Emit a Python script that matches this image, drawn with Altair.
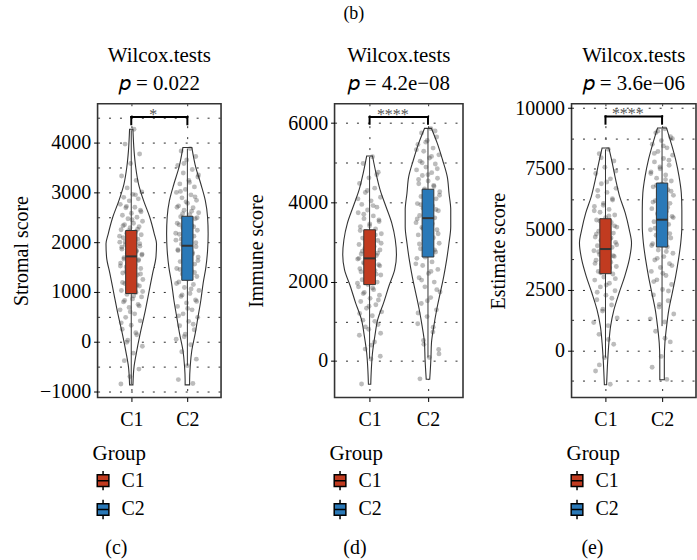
import altair as alt
import pandas as pd

FONT = "Liberation Serif"
GROUPS = ["C1", "C2"]
COLORS = ["#C13B20", "#2A79B8"]
CAPTIONS = ["(c)", "(d)", "(e)"]
Y_TITLES = ["Stromal score", "Immune score", "Estimate score"]
P_VALUES = ["0.022", "4.2e\u221208", "3.6e\u221206"]
SIG_LABELS = ["*", "****", "****"]

# ---------------- jittered sample points ----------------
stromal_c1 = [4268, 3970, 3770, 3580, 3330, 3240, 3090, 3010, 2960, 2900, 2870, 2830, 2760, 2700,
              2690, 2640, 2580, 2540, 2500, 2470, 2420, 2380, 2350, 2310, 2290, 2250, 2210, 2180,
              2150, 2110, 2090, 2060, 2030, 2000, 1980, 1950, 1920, 1890, 1860, 1830, 1790, 1760,
              1720, 1690, 1650, 1610, 1580, 1540, 1500, 1470, 1430, 1380, 1340, 1300, 1250, 1210,
              1170, 1120, 1080, 1030, 990, 950, 900, 860, 800, 750, 690, 640, 560, 490, 420, 330,
              250, 140, 30, -90, -230, -380, -550, -700, -850,
              2950, 2720, 2610, 2450, 2330, 2260, 2230, 2120, 2070, 2010, 1970, 1940, 1900, 1810,
              1770, 1740, 1700, 1660, 1630, 1560, 1520, 1480, 1410, 1360, 1280, 1190, 1140, 1060,
              1010, 920, 830, 720, 600, 380, 180, -10]
stromal_c2 = [3880, 3830, 3720, 3650, 3540, 3460, 3390, 3310, 3240, 3170, 3110, 3060, 3000, 2950,
              2890, 2840, 2780, 2730, 2690, 2640, 2590, 2550, 2510, 2470, 2420, 2380, 2330, 2290,
              2240, 2200, 2160, 2120, 2080, 2040, 2000, 1960, 1910, 1870, 1830, 1790, 1740, 1700,
              1650, 1610, 1560, 1510, 1470, 1420, 1360, 1310, 1260, 1200, 1150, 1090, 1030, 970,
              910, 840, 780, 710, 640, 560, 490, 410, 320, 240, 150, 50, -60, -200, -350, -480,
              -760, -840,
              3580, 3350, 3200, 3020, 2910, 2810, 2700, 2620, 2570, 2490, 2440, 2350, 2310, 2270,
              2180, 2140, 2060, 1990, 1930, 1850, 1760, 1680, 1630, 1530, 1450, 1390, 1280, 1170,
              1060, 940, 810, 670, 520, 350, 100]
immune_c1 = [5150, 4980, 4760, 4620, 4480, 4360, 4250, 4130, 4040, 3950, 3880, 3810, 3740, 3660,
             3590, 3520, 3460, 3390, 3330, 3270, 3210, 3150, 3100, 3040, 2990, 2940, 2890, 2840,
             2800, 2750, 2700, 2660, 2610, 2570, 2520, 2480, 2430, 2380, 2330, 2280, 2230, 2170,
             2110, 2050, 1990, 1930, 1870, 1800, 1730, 1660, 1580, 1500, 1420, 1330, 1240, 1140,
             1030, 920, 800, 650, 480, 300, 120, 50, -580,
             4700, 4300, 4090, 3920, 3700, 3560, 3410, 3290, 3180, 3070, 2970, 2870, 2770, 2720,
             2640, 2590, 2540, 2460, 2400, 2350, 2250, 2190, 2080, 1960, 1840, 1700, 1540, 1380,
             1200, 1000, 860, 700, 400]
immune_c2 = [5860, 5750, 5650, 5560, 5460, 5370, 5290, 5200, 5120, 5040, 4970, 4890, 4820, 4750,
             4680, 4610, 4540, 4470, 4400, 4340, 4270, 4210, 4150, 4090, 4030, 3970, 3910, 3850,
             3790, 3730, 3670, 3610, 3550, 3490, 3430, 3370, 3310, 3240, 3180, 3110, 3040, 2970,
             2900, 2830, 2750, 2670, 2590, 2500, 2410, 2310, 2210, 2100, 1990, 1870, 1740, 1600,
             1450, 1290, 1120, 940, 730, 520, 290, 90, -450,
             5800, 5520, 5330, 5160, 5000, 4850, 4700, 4580, 4430, 4300, 4180, 4060, 3940, 3820,
             3700, 3580, 3460, 3340, 3210, 3080, 2950, 2800, 2620, 2450, 2260, 2040, 1800, 1520,
             1210, 850, 420, 180]
estimate_c1 = [8300, 8120, 7820, 7560, 7300, 7080, 6880, 6690, 6520, 6360, 6210, 6070, 5940, 5820,
               5700, 5590, 5480, 5380, 5280, 5180, 5090, 5000, 4920, 4840, 4760, 4680, 4610, 4540,
               4460, 4390, 4320, 4250, 4180, 4110, 4030, 3960, 3880, 3800, 3720, 3640, 3550, 3460,
               3360, 3260, 3150, 3030, 2900, 2770, 2620, 2460, 2280, 2090, 1870, 1620, 1340, 1020,
               660, 250, -300, -850, -1400,
               7950, 7400, 6950, 6600, 6260, 5990, 5760, 5550, 5340, 5140, 4960, 4800, 4640, 4500,
               4360, 4210, 4070, 3910, 3760, 3590, 3410, 3200, 2960, 2700, 2400, 2150, 1700, 1150,
               450, -600]
estimate_c2 = [9150, 8980, 8820, 8660, 8510, 8360, 8210, 8060, 7920, 7780, 7640, 7500, 7370, 7240,
               7110, 6990, 6870, 6750, 6630, 6510, 6400, 6290, 6180, 6070, 5960, 5850, 5740, 5640,
               5530, 5420, 5310, 5200, 5090, 4980, 4870, 4750, 4640, 4520, 4400, 4270, 4140, 4010,
               3870, 3730, 3580, 3420, 3260, 3090, 2910, 2720, 2510, 2290, 2050, 1790, 1500, 1170,
               790, 350, -250, -700, -1200,
               9050, 8740, 8440, 8130, 7850, 7570, 7300, 7050, 6810, 6570, 6350, 6120, 5900, 5690,
               5480, 5260, 5040, 4820, 4580, 4330, 4080, 3800, 3500, 3180, 2840, 2450, 1900, 1300,
               500]

# ---------------- violin outlines: score level and half-width (x units) ----------------
stromal_c1_lev = [4268, 3834, 3500, 3168, 2834, 2500, 2168, 1968, 1700, 1368, 968, 568, 168, -232, -500, -866]
stromal_c1_hw = [0.03, 0.05, 0.08, 0.13, 0.22, 0.33, 0.41, 0.45, 0.44, 0.38, 0.31, 0.24, 0.16, 0.09, 0.05, 0.03]
stromal_c2_lev = [3900, 3500, 3168, 2834, 2500, 2168, 1834, 1500, 1168, 834, 500, 168, -166, -500, -766, -866]
stromal_c2_hw = [0.08, 0.15, 0.24, 0.32, 0.36, 0.37, 0.36, 0.33, 0.28, 0.24, 0.19, 0.14, 0.08, 0.05, 0.04, 0.04]
immune_c1_lev = [5170, 4735, 4316, 3897, 3478, 3059, 2682, 2305, 1886, 1467, 1048, 629, 210, -210, -587]
immune_c1_hw = [0.05, 0.11, 0.18, 0.28, 0.38, 0.44, 0.46, 0.43, 0.33, 0.24, 0.14, 0.09, 0.05, 0.03, 0.02]
immune_c2_lev = [5866, 5489, 5070, 4651, 4232, 3813, 3394, 2975, 2556, 2137, 1718, 1299, 880, 461, 42, -461]
immune_c2_hw = [0.06, 0.16, 0.25, 0.33, 0.36, 0.39, 0.39, 0.36, 0.32, 0.27, 0.21, 0.15, 0.10, 0.06, 0.05, 0.03]
estimate_c1_lev = [8352, 7733, 7045, 6357, 5669, 4981, 4431, 3743, 3055, 2367, 1679, 991, 303, -385, -1417]
estimate_c1_hw = [0.06, 0.12, 0.18, 0.25, 0.35, 0.42, 0.46, 0.42, 0.34, 0.24, 0.15, 0.09, 0.06, 0.04, 0.02]
estimate_c2_lev = [9178, 8559, 7871, 7183, 6495, 5807, 5119, 4431, 3743, 3055, 2367, 1679, 991, 303, -385, -1211]
estimate_c2_hw = [0.08, 0.16, 0.24, 0.30, 0.34, 0.35, 0.35, 0.33, 0.29, 0.24, 0.18, 0.12, 0.08, 0.05, 0.04, 0.04]

# ---------------- box statistics: [lower whisker, Q1, median, Q3, upper whisker] ----------------
stromal_box = {"C1": [-850, 968, 1714, 2234, 4250], "C2": [-480, 1234, 1928, 2520, 3880]}
immune_box = {"C1": [60, 1927, 2589, 3310, 5150], "C2": [90, 2623, 3603, 4332, 5860]}
estimate_box = {"C1": [-300, 3165, 4183, 5435, 8300], "C2": [1000, 4266, 5394, 6908, 9150]}

# ---------------- significance brackets: [line level, tip level] ----------------
brackets = [[4514, 4368], [6157, 5983], [9658, 9358]]

# ---------------- axes ----------------
y_domains = [[-1120, 4780], [-920, 6488], [-1946, 10181]]
y_ticks = [[-1000, 0, 1000, 2000, 3000, 4000], [0, 2000, 4000, 6000], [0, 2500, 5000, 7500, 10000]]
y_grid = [[-1000, -500, 0, 500, 1000, 1500, 2000, 2500, 3000, 3500, 4000, 4500],
          [0, 1000, 2000, 3000, 4000, 5000, 6000],
          [-1250, 0, 1250, 2500, 3750, 5000, 6250, 7500, 8750, 10000]]

PANEL_DATA = [
    (stromal_c1, stromal_c2, stromal_c1_lev, stromal_c1_hw, stromal_c2_lev, stromal_c2_hw, stromal_box),
    (immune_c1, immune_c2, immune_c1_lev, immune_c1_hw, immune_c2_lev, immune_c2_hw, immune_box),
    (estimate_c1, estimate_c2, estimate_c1_lev, estimate_c1_hw, estimate_c2_lev, estimate_c2_hw, estimate_box),
]
WIDTHS = [124, 129, 125]
TITLE_PAD = [8, 21, 6]
PANEL_TITLE_OFFSET = [10, 10, 4]
HEIGHT = 295
POS_EXPR = "datum.group === 'C1' ? 1 : 2"
LEGEND_SYMBOL = "M-0.6,-0.6H0.6V0.6H-0.6Z M-0.6,0H0.6 M0,-0.6V-1 M0,0.6V1"


def make_panel(i):
    p1, p2, l1, h1, l2, h2, box = PANEL_DATA[i]
    pts = pd.DataFrame({"group": ["C1"] * len(p1) + ["C2"] * len(p2), "score": p1 + p2})
    vio = pd.DataFrame({"group": ["C1"] * len(l1) + ["C2"] * len(l2), "score": l1 + l2, "hw": h1 + h2})
    bx = pd.DataFrame({
        "group": GROUPS,
        "lo": [box[g][0] for g in GROUPS],
        "q1": [box[g][1] for g in GROUPS],
        "med": [box[g][2] for g in GROUPS],
        "q3": [box[g][3] for g in GROUPS],
        "hi": [box[g][4] for g in GROUPS],
    })
    brk = pd.DataFrame({"top": [brackets[i][0]], "tip": [brackets[i][1]], "label": [SIG_LABELS[i]]})

    xs = alt.Scale(domain=[0.4, 2.6], nice=False, zero=False)
    ys = alt.Scale(domain=y_domains[i], nice=False, zero=False)
    ticks_js = "[" + ",".join(str(v) for v in y_ticks[i]) + "]"
    is_major = f"indexof({ticks_js}, datum.value) >= 0"

    xa = alt.Axis(values=[1, 2], labelExpr="datum.value == 1 ? 'C1' : 'C2'", title=None,
                  grid=True, labelPadding=8)
    ya = alt.Axis(values=y_grid[i], format="d", labelExpr=f"{is_major} ? datum.label : ''",
                  tickOpacity={"condition": {"test": is_major, "value": 1}, "value": 0},
                  grid=True, title=Y_TITLES[i], titlePadding=TITLE_PAD[i], labelPadding=3)

    def X(f):
        return alt.X(f, scale=xs, axis=xa)

    def Y(f):
        return alt.Y(f, scale=ys, axis=ya)

    violin = alt.Chart(vio).transform_calculate(pos=POS_EXPR).transform_calculate(
        xl="datum.pos - datum.hw", xr="datum.pos + datum.hw"
    ).mark_area(orient="horizontal", interpolate="monotone", fill="white",
                stroke="#333333", strokeWidth=1.1).encode(
        y=Y("score:Q"), x=X("xl:Q"), x2="xr:Q", detail="group:N",
    )

    whisker = alt.Chart(bx).transform_calculate(pos=POS_EXPR).mark_rule(
        color="#333333", strokeWidth=1).encode(x=X("pos:Q"), y=Y("lo:Q"), y2="hi:Q")

    points = alt.Chart(pts).transform_calculate(pos=POS_EXPR).transform_window(
        idx="row_number()", groupby=["group"]
    ).transform_calculate(
        jx="datum.pos + ((datum.idx * 0.618034) % 1 - 0.5) * 0.42"
    ).mark_circle(size=24, color="#333333", opacity=0.33).encode(x=X("jx:Q"), y=Y("score:Q"))

    boxes = alt.Chart(bx).transform_calculate(pos=POS_EXPR).transform_calculate(
        bl="datum.pos - 0.1", br="datum.pos + 0.1"
    ).mark_bar(stroke="#333333", strokeWidth=1).encode(
        x=X("bl:Q"), x2="br:Q", y=Y("q1:Q"), y2="q3:Q",
        color=alt.Color("group:N", scale=alt.Scale(domain=GROUPS, range=COLORS),
                        legend=alt.Legend(title="Group", orient="none", legendX=-5, legendY=341,
                                          direction="vertical", symbolType=LEGEND_SYMBOL,
                                          symbolSize=380, symbolStrokeColor="black",
                                          symbolStrokeWidth=1.5, labelOffset=8, rowPadding=2,
                                          titlePadding=6, padding=0)),
    )

    medians = alt.Chart(bx).transform_calculate(pos=POS_EXPR).transform_calculate(
        bl="datum.pos - 0.1", br="datum.pos + 0.1"
    ).mark_rule(color="#333333", strokeWidth=2).encode(x=X("bl:Q"), x2="br:Q", y=Y("med:Q"))

    base_b = alt.Chart(brk).transform_calculate(x1="1", x2="2", xm="1.5")
    br_h = base_b.mark_rule(color="black", strokeWidth=2, strokeCap="square").encode(
        x=X("x1:Q"), x2="x2:Q", y=Y("top:Q"))
    br_l = base_b.mark_rule(color="black", strokeWidth=2, strokeCap="square").encode(
        x=X("x1:Q"), y=Y("tip:Q"), y2="top:Q")
    br_r = base_b.mark_rule(color="black", strokeWidth=2, strokeCap="square").encode(
        x=X("x2:Q"), y=Y("tip:Q"), y2="top:Q")
    br_t = base_b.mark_text(font=FONT, fontSize=16, color="#555555", baseline="alphabetic",
                            dy=3, dx=-6).encode(x=X("xm:Q"), y=Y("top:Q"), text="label:N")

    layer = alt.layer(violin, whisker, points, boxes, medians, br_h, br_l, br_r, br_t).properties(
        width=WIDTHS[i], height=HEIGHT,
        title=alt.TitleParams(text=["Wilcox.tests", "\U0001D45D = " + P_VALUES[i]], frame="group",
                              anchor="middle", lineHeight=28, offset=PANEL_TITLE_OFFSET[i], fontSize=21),
    )
    wrapped = alt.vconcat(layer).resolve_scale(color="independent").properties(
        title=alt.TitleParams(text=CAPTIONS[i], orient="bottom", anchor="middle", offset=14, fontSize=20)
    )
    return wrapped


chart = alt.hconcat(*[make_panel(i) for i in range(3)], spacing=24).resolve_scale(
    color="independent", x="independent", y="independent"
).properties(
    title=alt.TitleParams("(b)", anchor="middle", fontSize=18, offset=21),
    padding={"left": 10, "top": 4, "right": 0, "bottom": 0},
).configure_axis(
    labelFont=FONT, titleFont=FONT, labelFontSize=20, titleFontSize=20, titleFontWeight="normal",
    labelColor="black", titleColor="black", tickColor="black", tickSize=4, tickWidth=1,
    domain=False, gridColor="#2a2a2a", gridDash=[2, 9], gridWidth=1, gridOpacity=1,
).configure_view(
    stroke="#333333", strokeWidth=1.6
).configure_title(
    font=FONT, fontWeight="normal", color="black"
).configure_legend(
    titleFont=FONT, labelFont=FONT, titleFontSize=21, labelFontSize=20, titleFontWeight="normal",
    titleColor="black", labelColor="black"
)

chart.save("out.html", embed_options={"renderer": "svg", "actions": False})
